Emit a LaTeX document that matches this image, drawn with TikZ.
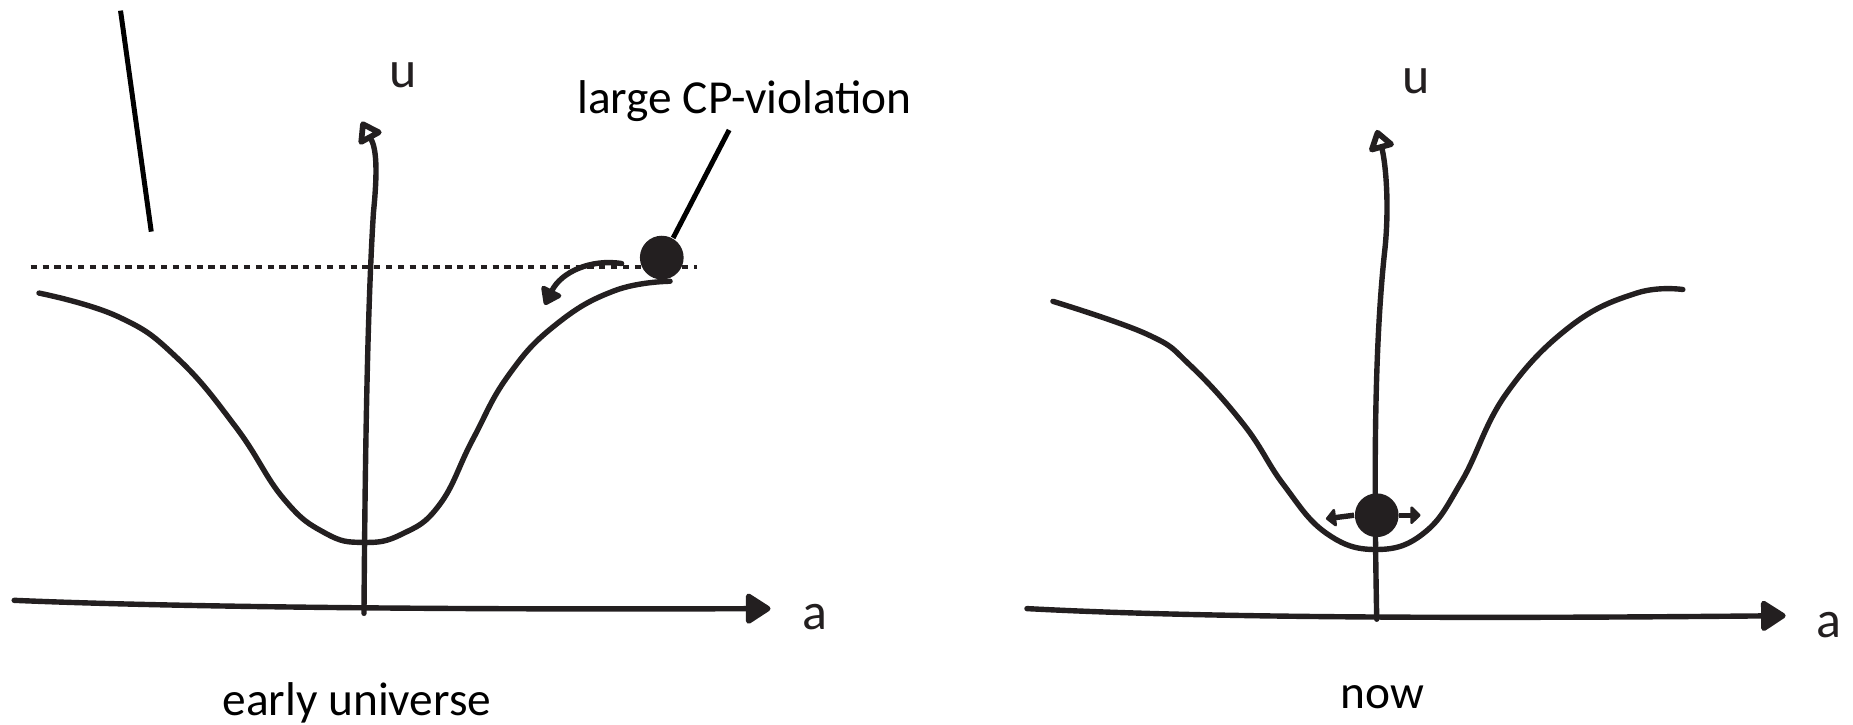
\documentclass[tikz,border=0pt]{standalone}
\usepackage{fontspec}
\setmainfont{Carlito}
\usetikzlibrary{arrows.meta}
\definecolor{ink}{HTML}{231F20}
\begin{document}
\begin{tikzpicture}[x=0.01cm,y=-0.01cm,
  curve/.style={draw=ink,line width=1.3pt,line cap=round,line join=round},
  haxis/.style={curve,-{Triangle[width=8pt,length=6.5pt,round]}},
  vaxis/.style={curve,-{Triangle[open,width=7pt,length=5.5pt,round,line width=1.6pt]}},
  small/.style={draw=ink,line width=1.3pt,-{Triangle[length=2.6pt,width=5pt,round]}},
  ball/.style={circle,fill=ink,inner sep=0pt,minimum size=0.37cm},
  lbl/.style={font=\fontsize{11.4}{13}\selectfont,text=black,inner sep=0pt},
  hand/.style={font=\fontsize{12.5}{14}\selectfont,text=ink,inner sep=0pt}]
\useasboundingbox (0,0) rectangle (1568,613);
% ---------------- left panel ----------------
\coordinate (s1) at (102,9);
\coordinate (s2) at (128,196);
\draw[draw=black,line width=1.2pt] (s1) -- (s2);
\coordinate (d1) at (26,226);
\coordinate (d2) at (590,226);
\draw[draw=ink,line width=0.8pt,dash pattern=on 1.5pt off 1.35pt] (d1) -- (d2);
% axes
\coordinate (ho1) at (12,508);
\coordinate (ho2) at (652,515);
\draw[haxis] (ho1) .. controls (150,514) and (400,516) .. (ho2);
\coordinate (vo1) at (308,519);
\coordinate (vo2) at (306,103);
\draw[vaxis] (vo1) .. controls (309,380) and (311,260) .. (316,180) .. controls (320,140) and (318,125) .. (vo2);
% potential
\draw[curve] plot[smooth,tension=0.75] coordinates {(33,248) (100,268) (150,303) (200,362) (240,422) (275,451) (307,459) (340,452) (372,427) (400,372) (430,318) (470,275) (520,246) (567,238)};
\node[ball] (b1) at (560,218) {};
\node[lbl,anchor=base] (cp) at (630,96) {large CP-violation};
\coordinate (cpl) at (617,110);
\draw[draw=black,line width=1.2pt] (cpl) -- (b1.60);
\coordinate (r1) at (526,223);
\coordinate (r2) at (461,258);
\draw[curve,-{Triangle[width=6pt,length=4.5pt,round]}] (r1) .. controls (500,219) and (475,230) .. (r2);
\node[hand] (u1) at (341,64) {u};
\node[hand] (a1) at (690,522) {a};
\node[lbl] (eu) at (302,595) {early universe};
% ---------------- right panel ----------------
\coordinate (ho3) at (869,515);
\coordinate (ho4) at (1511,521);
\draw[haxis] (ho3) .. controls (1000,522) and (1200,524) .. (ho4);
\coordinate (vo3) at (1165,524);
\coordinate (vo4) at (1165,110);
\draw[vaxis] (vo3) .. controls (1163,420) and (1162,300) .. (1172,210) .. controls (1176,170) and (1172,135) .. (vo4);
\draw[curve] plot[smooth,tension=0.7] coordinates {(891,255) (971,283) (1007,309) (1053,360) (1086,410) (1122,451) (1164,465) (1205,451) (1237,407) (1274,334) (1329,276) (1385,248) (1424,245)};
\node[ball] (b2) at (1165,436) {};
\coordinate (t1) at (1122,439);
\coordinate (t2) at (1202,436);
\draw[small] (b2.west) -- (t1);
\draw[small] (b2.east) -- (t2);
\node[hand] (u2) at (1198,69) {u};
\node[hand] (a2) at (1548,529) {a};
\node[lbl] (nw) at (1170,590) {now};
\end{tikzpicture}
\end{document}
